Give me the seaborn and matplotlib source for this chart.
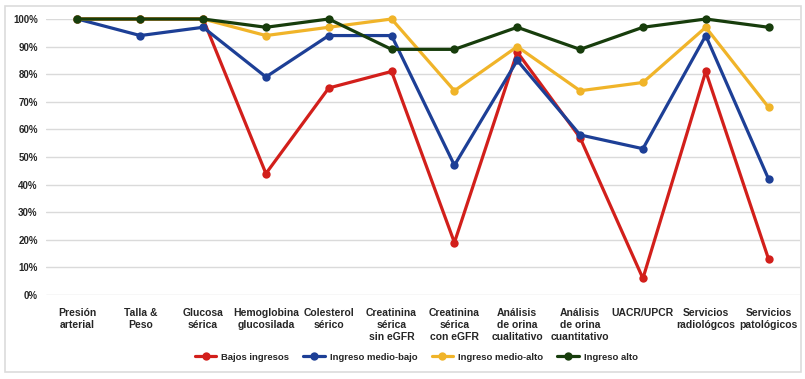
import pandas as pd
import matplotlib.pyplot as plt
import seaborn as sns
from matplotlib.patches import Rectangle
from matplotlib.ticker import PercentFormatter

categorias = ['Presión\narterial', 'Talla &\nPeso', 'Glucosa\nsérica', 'Hemoglobina\nglucosilada',
              'Colesterol\nsérico', 'Creatinina\nsérica\nsin eGFR', 'Creatinina\nsérica\ncon eGFR',
              'Análisis\nde orina\ncualitativo', 'Análisis\nde orina\ncuantitativo', 'UACR/UPCR',
              'Servicios\nradiológcos', 'Servicios\npatológicos']

bajos = [100, 100, 100, 44, 75, 81, 19, 88, 57, 6, 81, 13]
medio_bajo = [100, 94, 97, 79, 94, 94, 47, 85, 58, 53, 94, 42]
medio_alto = [100, 100, 100, 94, 97, 100, 74, 90, 74, 77, 97, 68]
alto = [100, 100, 100, 97, 100, 89, 89, 97, 89, 97, 100, 97]

grupos = ['Bajos ingresos', 'Ingreso medio-bajo', 'Ingreso medio-alto', 'Ingreso alto']
colores = ['#d21f1b', '#1d3f96', '#f0b429', '#173d0c']

df = pd.DataFrame({'x': list(range(len(categorias))), 'Bajos ingresos': bajos,
                   'Ingreso medio-bajo': medio_bajo, 'Ingreso medio-alto': medio_alto,
                   'Ingreso alto': alto})
df_long = df.melt(id_vars='x', var_name='grupo', value_name='valor')

sns.set_style('white')
plt.rcParams['font.family'] = ['Liberation Sans', 'DejaVu Sans']

fig = plt.figure(figsize=(8.05, 3.79), dpi=100)
ax = fig.add_axes([46 / 805, 84 / 379, 754 / 805, 276 / 379])

sns.lineplot(data=df_long, x='x', y='valor', hue='grupo', hue_order=grupos,
             palette=colores, marker='o', markersize=6, markeredgewidth=0,
             linewidth=2.3, ax=ax, clip_on=False)

ax.set_xlim(-0.5, len(categorias) - 0.5)
ax.set_ylim(0, 100)
ax.set_yticks(range(0, 101, 10))
ax.yaxis.set_major_formatter(PercentFormatter(decimals=0))
ax.set_xticks(range(len(categorias)))
ax.set_xticklabels(categorias, fontsize=7.5, fontweight='bold', va='top', linespacing=1.25)
for lbl in ax.get_yticklabels():
    lbl.set_fontsize(7)
    lbl.set_fontweight('bold')
ax.tick_params(axis='both', length=0)
ax.tick_params(axis='x', pad=9)
ax.tick_params(axis='y', pad=6)
ax.grid(axis='y', color='#dadada', linewidth=1)
ax.set_axisbelow(True)
for s in ax.spines.values():
    s.set_visible(False)
ax.set_xlabel('')
ax.set_ylabel('')

leg = ax.legend(loc='center', bbox_to_anchor=(0.517, 0.058), bbox_transform=fig.transFigure,
                ncol=4, frameon=False, handlelength=2.3, handletextpad=0.5, columnspacing=1.5,
                prop={'size': 6.8, 'weight': 'bold'})

fig.patches.append(Rectangle((5 / 805, 7 / 379), 796 / 805, 366 / 379, transform=fig.transFigure,
                             fill=False, edgecolor='#dcdcdc', linewidth=1.2))

fig.savefig('out.png', dpi=100)
